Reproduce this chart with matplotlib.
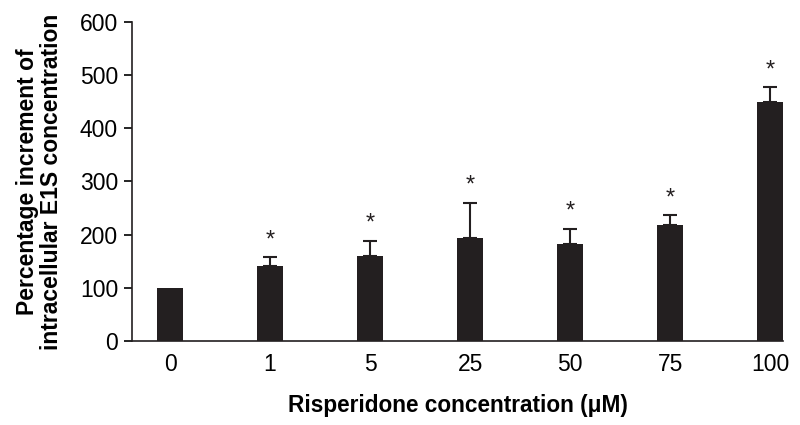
import numpy as np
import matplotlib.pyplot as plt

plt.rcParams['font.family'] = ['Liberation Sans', 'DejaVu Sans']

labels = ['0', '1', '5', '25', '50', '75', '100']
means = [100, 140, 159, 194, 183, 219, 450]
errs = [0, 17, 29, 65, 27, 17, 27]
signif = [False, True, True, True, True, True, True]

fig = plt.figure(figsize=(8, 4.25), dpi=100)
ax = fig.add_axes([0.165, 0.198, 0.814, 0.75])

x = np.arange(len(labels))
means_a = np.array(means)
errs_a = np.array(errs)
has_err = errs_a > 0

ax.bar(x, means, width=0.26, color='#231f20', zorder=2)
ax.errorbar(x[has_err], means_a[has_err], yerr=[np.zeros(has_err.sum()), errs_a[has_err]],
            fmt='none', ecolor='#231f20', elinewidth=1.5, capsize=5, capthick=1.5, zorder=1)

for xi, m, e, s in zip(x, means, errs, signif):
    if s:
        ax.text(xi, m + e + 12, '*', ha='center', va='bottom', fontsize=17, color='#231f20')

ax.set_xlim(-0.38, 6.13)
ax.set_ylim(0, 600)
ax.set_yticks(range(0, 601, 100))
ax.set_xticks(x)
ax.set_xticklabels(labels)
ax.tick_params(axis='x', length=0, pad=9, labelsize=16.5)
ax.tick_params(axis='y', length=6, width=1.2, labelsize=16.5, pad=4)
for side in ['top', 'right']:
    ax.spines[side].set_visible(False)
for side in ['left', 'bottom']:
    ax.spines[side].set_linewidth(1.2)
    ax.spines[side].set_color('#231f20')

ax.set_xlabel('Risperidone concentration (\u03bcM)', fontsize=16.3, fontweight='bold', labelpad=13)
ax.set_ylabel('Percentage increment of\nintracellular E1S concentration', fontsize=16.5,
              fontweight='bold', labelpad=12, linespacing=1.05)

plt.savefig('out.png', dpi=100)
